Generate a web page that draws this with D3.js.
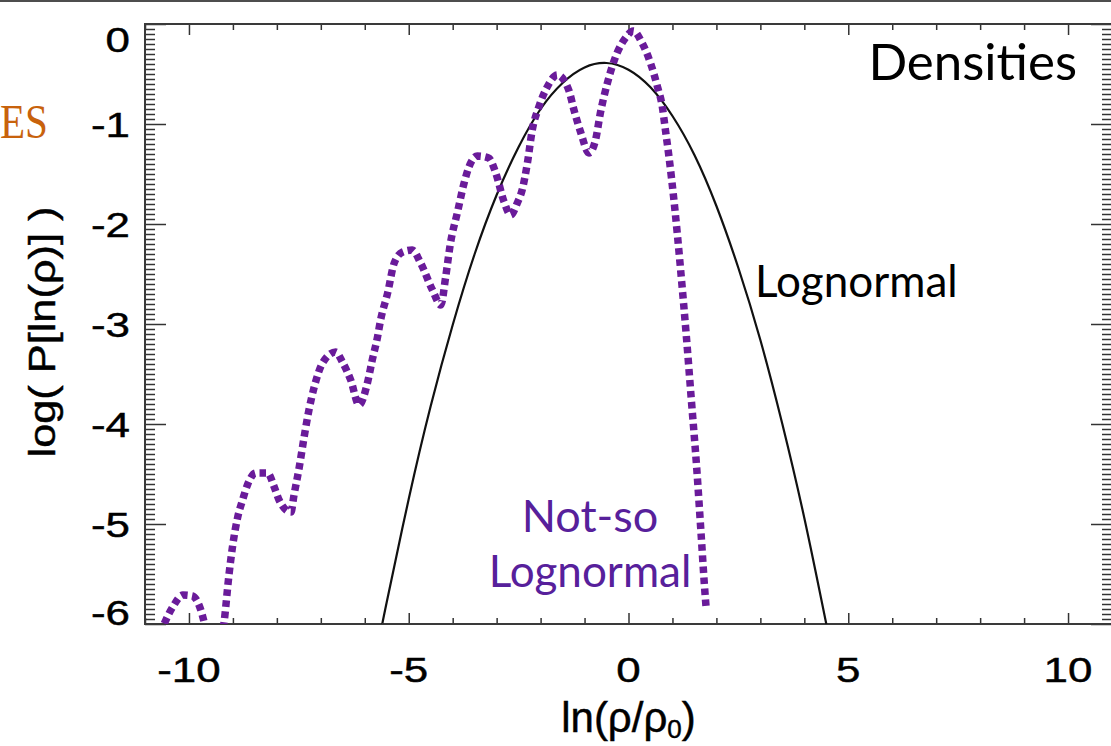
<!DOCTYPE html>
<html>
<head>
<meta charset="utf-8">
<script src="https://cdn.jsdelivr.net/npm/d3@7"></script>
<style>
  html, body { margin: 0; padding: 0; background: #fff; overflow: hidden; }
  svg { display: block; }
</style>
</head>
<body>
<svg id="chart" width="1111" height="746"></svg>
<script>
// Log of the probability density of ln(rho/rho0):
// a measured ("not-so lognormal") distribution and a lognormal reference.

const xDomain = [-11, 11];
const yDomain = [-6, 0];

const xMajorTicks = [-10, -5, 0, 5, 10];
const xTickLabels = ["-10", "-5", "0", "5", "10"];
const yMajorTicks = [0, -1, -2, -3, -4, -5, -6];
const yTickLabels = ["0", "-1", "-2", "-3", "-4", "-5", "-6"];

// measured distribution [ln(rho/rho0), log P]
const notSoLognormal = [
  [-10.75, -6.2], [-10.37, -5.83], [-10.14, -5.71], [-9.92, -5.72], [-9.73, -5.86],
  [-9.61, -6.06], [-9.41, -6.4], [-9.2, -5.98], [-9.09, -5.51], [-9.01, -5.23],
  [-8.89, -4.93], [-8.78, -4.76], [-8.67, -4.61], [-8.48, -4.49], [-8.21, -4.49],
  [-8.06, -4.63], [-7.95, -4.76], [-7.68, -4.88], [-7.61, -4.71], [-7.49, -4.43],
  [-7.38, -4.13], [-7.27, -3.86], [-7.15, -3.63], [-6.96, -3.39], [-6.66, -3.28],
  [-6.51, -3.38], [-6.32, -3.56], [-6.13, -3.81], [-5.94, -3.59], [-5.83, -3.36],
  [-5.71, -3.13], [-5.64, -2.96], [-5.48, -2.69], [-5.33, -2.39], [-5.14, -2.28],
  [-4.92, -2.26], [-4.73, -2.39], [-4.46, -2.66], [-4.27, -2.81], [-4.16, -2.53],
  [-4.05, -2.19], [-3.89, -1.88], [-3.74, -1.59], [-3.63, -1.43], [-3.44, -1.32],
  [-3.18, -1.34], [-3.02, -1.49], [-2.83, -1.78], [-2.68, -1.91], [-2.53, -1.79],
  [-2.42, -1.66], [-2.30, -1.39], [-2.19, -1.06], [-2.04, -0.83], [-1.85, -0.63],
  [-1.62, -0.51], [-1.36, -0.66], [-1.24, -0.86], [-1.09, -1.08], [-0.90, -1.29],
  [-0.75, -1.16], [-0.64, -0.89], [-0.48, -0.59], [-0.26, -0.29], [-0.07, -0.14],
  [0.11, -0.07], [0.31, -0.19], [0.50, -0.39], [0.66, -0.63], [0.77, -0.83],
  [0.84, -1.06], [0.91, -1.29], [1.05, -1.83], [1.18, -2.43], [1.31, -3.09],
  [1.43, -3.76], [1.55, -4.43], [1.65, -5.09], [1.74, -5.69], [1.77, -5.86]
];

// lognormal reference [ln(rho/rho0), log P]
const lognormal = [
  [-5.6, -6.0], [-5.5, -5.78], [-5.0, -4.75], [-4.5, -3.82], [-4.0, -3.01],
  [-3.5, -2.30], [-3.0, -1.71], [-2.5, -1.23], [-2.0, -0.85], [-1.5, -0.59],
  [-1.0, -0.435], [-0.5, -0.39], [0.0, -0.457], [0.5, -0.633], [1.0, -0.92],
  [1.5, -1.31], [2.0, -1.82], [2.5, -2.44], [3.0, -3.16], [3.5, -4.00],
  [4.0, -4.94], [4.5, -6.0]
];

const W = 1111, H = 746;
const plot = { left: 145, right: 1112, top: 24, bottom: 624 };
const sx = 1.22; // horizontal stretch of the axis lettering

const svg = d3.select("#chart");

const x = d3.scaleLinear().domain(xDomain).range([plot.left, plot.right]);
const y = d3.scaleLinear().domain(yDomain).range([plot.bottom, plot.top]);

// thin rule across the top of the page
svg.append("line")
  .attr("x1", 0).attr("x2", W).attr("y1", 1).attr("y2", 1)
  .attr("stroke", "#4d4d4d").attr("stroke-width", 2);

svg.append("defs").append("clipPath").attr("id", "plotClip")
  .append("rect")
  .attr("x", plot.left).attr("y", plot.top)
  .attr("width", plot.right - plot.left).attr("height", plot.bottom - plot.top);

// ---- axes (ticks point inward on all four sides) ----
const xMinor = d3.range(-11, 11.001, 1).filter(v => !xMajorTicks.includes(v));
const yMinor = d3.range(0, 121, 1).map(i => -6 + i * 0.05).filter(v => Math.abs(v - Math.round(v)) > 1e-6);

function styleAxis(g) {
  g.select(".domain").remove();
  g.selectAll(".tick line").attr("stroke", "#333").attr("stroke-width", 1.5);
  g.selectAll(".tick text").remove();
}

const axes = svg.append("g");
axes.append("g").attr("transform", `translate(0,${plot.bottom})`)
  .call(d3.axisBottom(x).tickValues(xMinor).tickSize(-6).tickFormat("")).call(styleAxis);
axes.append("g").attr("transform", `translate(0,${plot.bottom})`)
  .call(d3.axisBottom(x).tickValues(xMajorTicks).tickSize(-11).tickFormat("")).call(styleAxis);
axes.append("g").attr("transform", `translate(0,${plot.top})`)
  .call(d3.axisTop(x).tickValues(xMinor).tickSize(-6).tickFormat("")).call(styleAxis);
axes.append("g").attr("transform", `translate(0,${plot.top})`)
  .call(d3.axisTop(x).tickValues(xMajorTicks).tickSize(-11).tickFormat("")).call(styleAxis);

axes.append("g").attr("transform", `translate(${plot.left},0)`)
  .call(d3.axisLeft(y).tickValues(yMinor).tickSize(-10).tickFormat("")).call(styleAxis);
axes.append("g").attr("transform", `translate(${plot.left},0)`)
  .call(d3.axisLeft(y).tickValues(yMajorTicks).tickSize(-21).tickFormat("")).call(styleAxis);
axes.append("g").attr("transform", `translate(${plot.right},0)`)
  .call(d3.axisRight(y).tickValues(yMinor).tickSize(-10).tickFormat("")).call(styleAxis);
axes.append("g").attr("transform", `translate(${plot.right},0)`)
  .call(d3.axisRight(y).tickValues(yMajorTicks).tickSize(-21).tickFormat("")).call(styleAxis);

// frame
svg.append("rect")
  .attr("x", plot.left).attr("y", plot.top)
  .attr("width", plot.right - plot.left).attr("height", plot.bottom - plot.top)
  .attr("fill", "none").attr("stroke", "#3a3a3a").attr("stroke-width", 2);

// ---- tick labels ----
const axisFont = "'Liberation Sans', Arial, Helvetica, sans-serif";
const labels = svg.append("g")
  .attr("font-family", axisFont)
  .attr("fill", "#000")
  .attr("stroke", "#000")
  .attr("stroke-width", 0.45);

xMajorTicks.forEach((v, i) => {
  labels.append("text")
    .attr("transform", `translate(${x(v)},682) scale(${sx},1)`)
    .attr("text-anchor", "middle")
    .attr("font-size", 36)
    .text(xTickLabels[i]);
});

yMajorTicks.forEach((v, i) => {
  const base = Math.max(plot.top + 28, Math.min(plot.bottom + 1, y(v) + 13));
  labels.append("text")
    .attr("transform", `translate(130,${base}) scale(${sx},1)`)
    .attr("text-anchor", "end")
    .attr("font-size", 36)
    .text(yTickLabels[i]);
});

// axis titles
labels.append("text")
  .attr("transform", "translate(55,332) rotate(-90)")
  .attr("text-anchor", "middle")
  .attr("font-size", 37)
  .attr("textLength", 251)
  .attr("lengthAdjust", "spacingAndGlyphs")
  .text("log( P[ln(\u03C1)] )");

const xt = labels.append("text")
  .attr("x", x(0)).attr("y", 732)
  .attr("text-anchor", "middle")
  .attr("font-size", 42);
xt.append("tspan").text("ln(\u03C1/\u03C1");
xt.append("tspan").attr("font-size", 26).attr("dy", 6).text("0");
xt.append("tspan").attr("dy", -6).text(")");

// ---- curves ----
const line = d3.line().x(d => x(d[0])).y(d => y(d[1]));
const curves = svg.append("g").attr("clip-path", "url(#plotClip)");

curves.append("path")
  .datum(lognormal)
  .attr("d", line.curve(d3.curveNatural))
  .attr("fill", "none")
  .attr("stroke", "#111")
  .attr("stroke-width", 2.2);

curves.append("path")
  .datum(notSoLognormal)
  .attr("d", line.curve(d3.curveMonotoneX))
  .attr("fill", "none")
  .attr("stroke", "#6a1b9a")
  .attr("stroke-width", 7.5)
  .attr("stroke-dasharray", "6.5,4.5");

// ---- annotations ----
const noteFont = "Lato, 'Gill Sans', 'Open Sans', sans-serif";
svg.append("text")
  .attr("x", 1077).attr("y", 80)
  .attr("text-anchor", "end")
  .attr("font-family", noteFont).attr("font-size", 51)
  .attr("fill", "#000")
  .text("Densities");

svg.append("text")
  .attr("x", 755).attr("y", 297)
  .attr("font-family", noteFont).attr("font-size", 44)
  .attr("fill", "#000")
  .text("Lognormal");

svg.append("text")
  .attr("x", 590).attr("y", 532)
  .attr("text-anchor", "middle")
  .attr("font-family", noteFont).attr("font-size", 45)
  .attr("fill", "#57209b")
  .text("Not-so");

svg.append("text")
  .attr("x", 590).attr("y", 587)
  .attr("text-anchor", "middle")
  .attr("font-family", noteFont).attr("font-size", 44)
  .attr("fill", "#57209b")
  .text("Lognormal");

svg.append("text")
  .attr("x", 0).attr("y", 138)
  .attr("font-family", "'Liberation Serif', 'Times New Roman', serif")
  .attr("font-size", 48)
  .attr("textLength", 48)
  .attr("lengthAdjust", "spacingAndGlyphs")
  .attr("fill", "#c8620c")
  .text("ES");
</script>
</body>
</html>
